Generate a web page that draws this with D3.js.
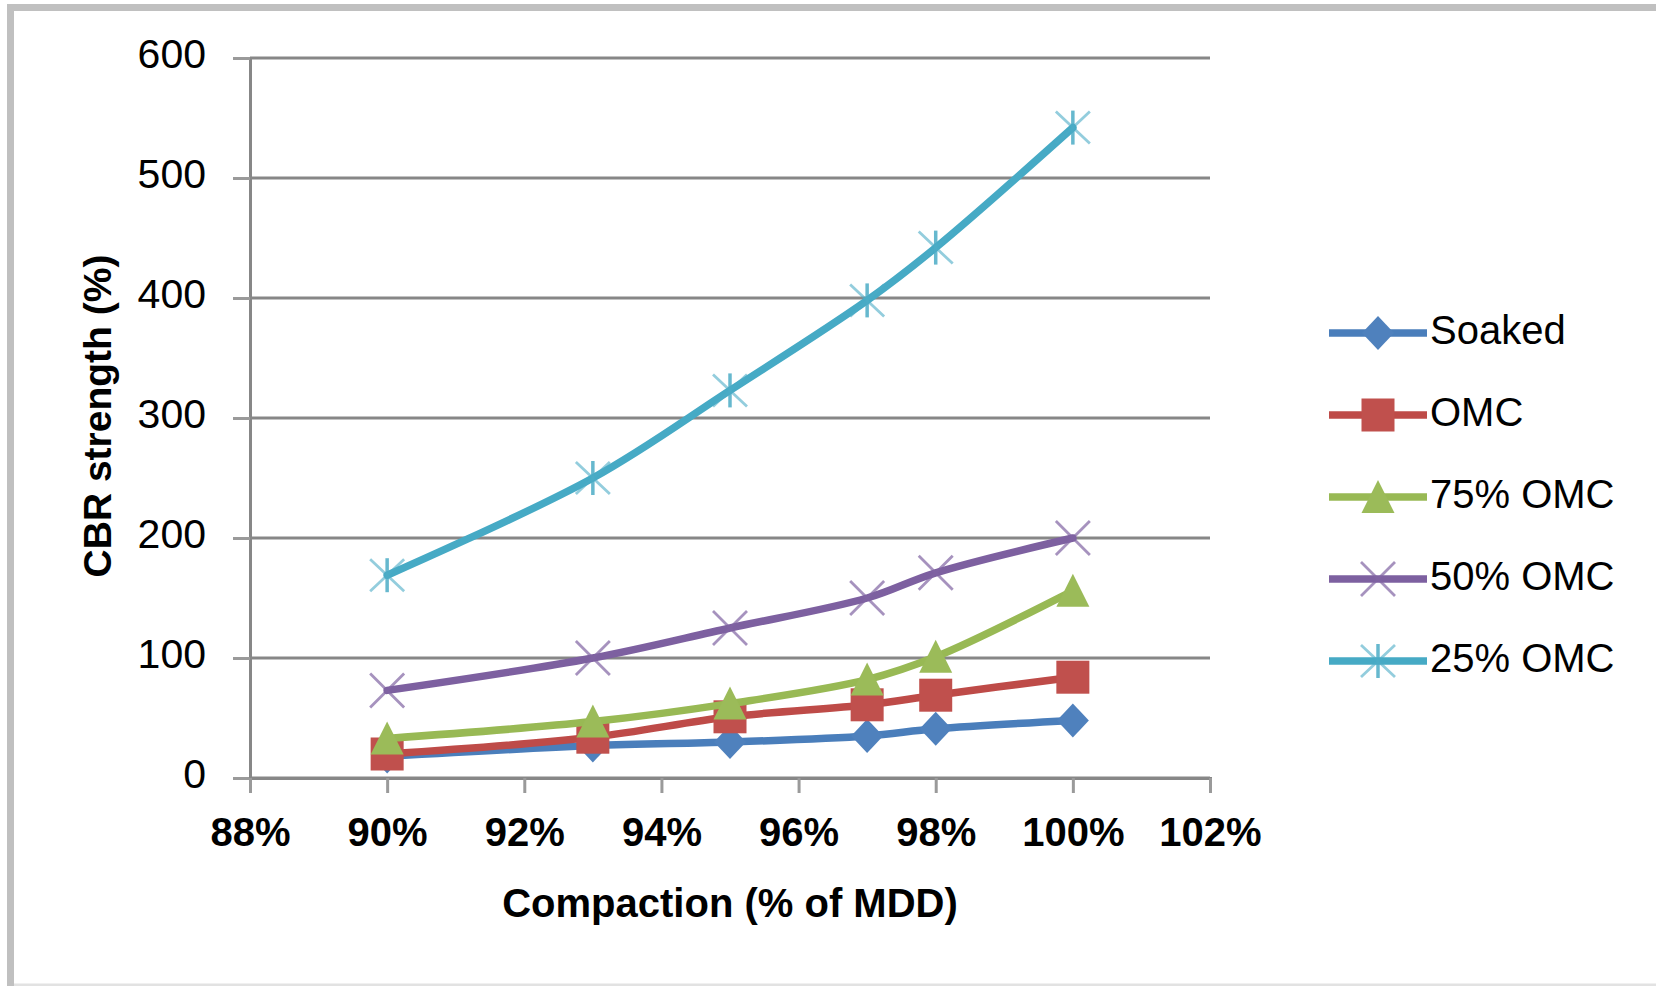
<!DOCTYPE html>
<html>
<head>
<meta charset="utf-8">
<script src="https://cdn.jsdelivr.net/npm/d3@7"></script>
<style>
  html, body { margin: 0; padding: 0; background: #ffffff; }
  svg { display: block; }
  text { font-family: "Liberation Sans", Arial, sans-serif; fill: #000; }
</style>
</head>
<body>
<svg id="chart" width="1656" height="986"></svg>
<script>
// Compaction levels (fraction of maximum dry density)
const compaction = [0.90, 0.93, 0.95, 0.97, 0.98, 1.00];

// CBR strength (%) for each moisture condition
const soaked   = [18, 27, 30, 35, 41, 48];
const omc      = [20, 34, 51, 61, 69, 84];
const omc75    = [33, 47, 62, 82, 101, 156];
const omc50    = [73, 100, 125, 150, 171, 200];
const omc25    = [169, 250, 323, 398, 442, 542];

const seriesNames = ["Soaked", "OMC", "75% OMC", "50% OMC", "25% OMC"];
const seriesValues = [soaked, omc, omc75, omc50, omc25];

const xTicks = [0.88, 0.90, 0.92, 0.94, 0.96, 0.98, 1.00, 1.02];
const yTicks = [0, 100, 200, 300, 400, 500, 600];

const xTitle = "Compaction (% of MDD)";
const yTitle = "CBR strength (%)";

// Visual style per series
const styles = [
  { line: "#4A7EBB", fill: "#4F81BD", shape: "diamond" },
  { line: "#BE4B48", fill: "#C0504D", shape: "square" },
  { line: "#98B954", fill: "#9BBB59", shape: "triangle" },
  { line: "#7D60A0", fill: "#8064A2", shape: "x" },
  { line: "#46AAC5", fill: "#4BACC6", shape: "star" }
];

const svg = d3.select("#chart");

// Chart frame
svg.append("line").attr("x1", 10.5).attr("x2", 10.5).attr("y1", 4).attr("y2", 986)
  .attr("stroke", "#c0c0c0").attr("stroke-width", 7);
svg.append("line").attr("x1", 7).attr("x2", 1656).attr("y1", 7.5).attr("y2", 7.5)
  .attr("stroke", "#c0c0c0").attr("stroke-width", 7);
svg.append("line").attr("x1", 14).attr("x2", 1656).attr("y1", 985).attr("y2", 985)
  .attr("stroke", "#e2e2e2").attr("stroke-width", 3);

const x = d3.scaleLinear().domain([0.88, 1.02]).range([250, 1210]);
const y = d3.scaleLinear().domain([0, 600]).range([778, 58]);

const gridColor = "#878787";

// Horizontal gridlines
svg.append("g").selectAll("line").data(yTicks).join("line")
  .attr("x1", x(0.88)).attr("x2", x(1.02))
  .attr("y1", d => y(d)).attr("y2", d => y(d))
  .attr("stroke", gridColor).attr("stroke-width", 3);

// Y axis
const yAxis = svg.append("g").attr("transform", `translate(${x(0.88)},0)`)
  .call(d3.axisLeft(y).tickValues(yTicks).tickSize(17).tickPadding(27).tickFormat(d3.format("d")));
yAxis.select(".domain").attr("stroke", gridColor).attr("stroke-width", 3);
yAxis.selectAll(".tick line").attr("stroke", "#9a9a9a").attr("stroke-width", 3);
yAxis.selectAll(".tick text").attr("font-size", 41).attr("dy", "0.24em")
  .attr("font-family", "Liberation Sans, Arial, sans-serif").attr("fill", "#000");

// X axis
const xAxis = svg.append("g").attr("transform", `translate(0,${y(0)})`)
  .call(d3.axisBottom(x).tickValues(xTicks).tickSize(15).tickPadding(25).tickFormat(d3.format(".0%")));
xAxis.select(".domain").attr("stroke", gridColor).attr("stroke-width", 3);
xAxis.selectAll(".tick line").attr("stroke", "#9a9a9a").attr("stroke-width", 3);
xAxis.selectAll(".tick text").attr("font-size", 40).attr("font-weight", "bold")
  .attr("font-family", "Liberation Sans, Arial, sans-serif").attr("fill", "#000");

// Axis titles
svg.append("text").attr("x", (x(0.88) + x(1.02)) / 2).attr("y", 917)
  .attr("text-anchor", "middle").attr("font-size", 40).attr("font-weight", "bold")
  .text(xTitle);
svg.append("text").attr("transform", "translate(111,416) rotate(-90)")
  .attr("text-anchor", "middle").attr("font-size", 39).attr("font-weight", "bold")
  .text(yTitle);

// Marker drawing
function drawMarker(g, shape, style) {
  if (shape === "diamond") {
    g.append("path").attr("d", "M0,-17L16,0L0,17L-16,0Z").attr("fill", style.fill);
  } else if (shape === "square") {
    g.append("rect").attr("x", -16.5).attr("y", -16.5).attr("width", 33).attr("height", 33)
      .attr("fill", style.fill);
  } else if (shape === "triangle") {
    g.append("path").attr("d", "M0,-17L16.5,16L-16.5,16Z").attr("fill", style.fill);
  } else if (shape === "x") {
    g.append("path").attr("d", "M-17,-17L17,17M17,-17L-17,17")
      .attr("stroke", style.fill).attr("stroke-width", 2.8).attr("stroke-opacity", 0.7);
  } else if (shape === "star") {
    g.append("path").attr("d", "M-17,-16L17,16M17,-16L-17,16")
      .attr("stroke", style.fill).attr("stroke-width", 2.8).attr("stroke-opacity", 0.6);
    g.append("path").attr("d", "M0,-17L0,17")
      .attr("stroke", style.fill).attr("stroke-width", 3.5).attr("stroke-opacity", 0.85);
  }
}

const line = d3.line()
  .x(d => x(d[0]))
  .y(d => y(d[1]))
  .curve(d3.curveCatmullRom.alpha(0.5));

seriesValues.forEach((vals, i) => {
  const pts = compaction.map((c, j) => [c, vals[j]]);
  const st = styles[i];
  const g = svg.append("g");
  g.append("path").datum(pts).attr("d", line)
    .attr("fill", "none").attr("stroke", st.line).attr("stroke-width", 7.5)
    .attr("stroke-linejoin", "round").attr("stroke-linecap", "round");
  g.selectAll("g.m").data(pts).join("g").attr("class", "m")
    .attr("transform", d => `translate(${x(d[0])},${y(d[1])})`)
    .each(function () { drawMarker(d3.select(this), st.shape, st); });
});

// Legend
const legendY = d3.scaleLinear().domain([0, 4]).range([333, 661]);
seriesNames.forEach((name, i) => {
  const st = styles[i];
  const ly = legendY(i);
  const g = svg.append("g");
  g.append("line").attr("x1", 1329).attr("x2", 1427).attr("y1", ly).attr("y2", ly)
    .attr("stroke", st.line).attr("stroke-width", 7.5);
  const m = g.append("g").attr("transform", `translate(1378,${ly})`);
  drawMarker(m, st.shape, st);
  g.append("text").attr("x", 1430).attr("y", ly + 11).attr("font-size", 40).text(name);
});
</script>
</body>
</html>
